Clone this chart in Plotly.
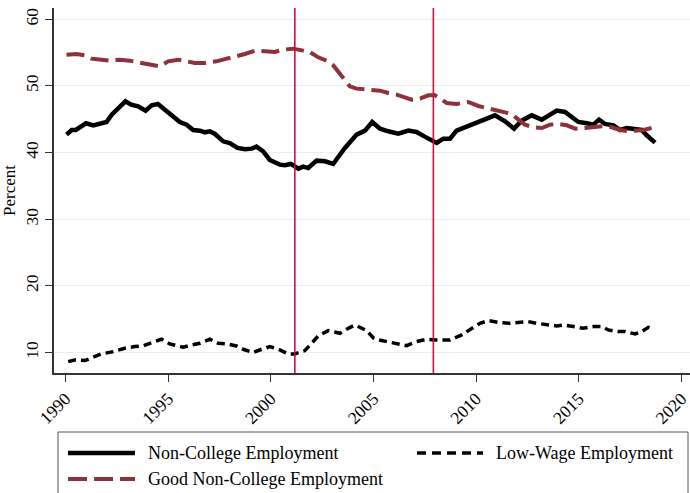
import plotly.graph_objects as go

# ---- Series data (fractional years, percent) ----
noncollege_years = [1990.05, 1990.3, 1990.5, 1990.8, 1991.0, 1991.35, 1991.67, 1992.0, 1992.25, 1992.56,
                    1992.92, 1993.2, 1993.54, 1993.9, 1994.2, 1994.5, 1994.84, 1995.24, 1995.57, 1995.9,
                    1996.22, 1996.55, 1996.79, 1997.03, 1997.28, 1997.68, 1998.0, 1998.38, 1998.74, 1999.06,
                    1999.3, 1999.63, 1999.95, 2000.44, 2000.69, 2000.98, 2001.34, 2001.58, 2001.82, 2002.23,
                    2002.64, 2003.04, 2003.61, 2004.18, 2004.59, 2004.94, 2005.32, 2005.72, 2006.21, 2006.7,
                    2007.1, 2007.5, 2007.84, 2008.08, 2008.4, 2008.73, 2009.05, 2009.46, 2009.86, 2010.43,
                    2010.92, 2011.41, 2011.85, 2012.22, 2012.71, 2013.2, 2013.52, 2013.93, 2014.33, 2014.66,
                    2014.98, 2015.39, 2015.71, 2015.99, 2016.28, 2016.69, 2017.01, 2017.34, 2017.74, 2018.07,
                    2018.31, 2018.72]
noncollege_pct = [42.7, 43.4, 43.4, 44.0, 44.4, 44.1, 44.3, 44.6, 45.7, 46.6,
                  47.7, 47.2, 46.95, 46.3, 47.1, 47.3, 46.45, 45.4, 44.6, 44.2,
                  43.4, 43.3, 43.05, 43.2, 42.8, 41.7, 41.45, 40.7, 40.5, 40.6,
                  40.9, 40.2, 38.9, 38.2, 38.1, 38.3, 37.6, 37.9, 37.7, 38.8,
                  38.7, 38.3, 40.7, 42.7, 43.3, 44.6, 43.6, 43.2, 42.85, 43.3,
                  43.1, 42.4, 41.9, 41.45, 42.1, 42.1, 43.3, 43.8, 44.3, 44.95,
                  45.6, 44.7, 43.6, 44.8, 45.6, 44.95, 45.6, 46.3, 46.1, 45.4,
                  44.6, 44.4, 44.2, 44.95, 44.3, 44.1, 43.4, 43.7, 43.6, 43.4,
                  42.6, 41.5]

lowwage_years = [1990.13, 1990.45, 1990.94, 1991.43, 1991.75, 1992.32, 1992.89, 1993.38, 1993.78, 1994.35,
                 1994.68, 1995.08, 1995.73, 1996.14, 1996.55, 1997.03, 1997.44, 1997.85, 1998.33, 1998.66,
                 1999.14, 1999.55, 1999.96, 2000.44, 2000.85, 2001.17, 2001.66, 2001.99, 2002.31, 2002.8,
                 2003.37, 2003.69, 2004.1, 2004.67, 2005.0, 2005.24, 2005.72, 2006.13, 2006.62, 2007.1,
                 2007.59, 2008.08, 2008.73, 2009.3, 2009.86, 2010.19, 2010.59, 2011.16, 2011.65, 2012.06,
                 2012.54, 2012.95, 2013.44, 2013.93, 2014.25, 2014.82, 2015.22, 2015.71, 2016.12, 2016.44,
                 2016.93, 2017.26, 2017.74, 2018.07, 2018.39, 2018.56]
lowwage_pct = [8.65, 8.9, 8.8, 9.4, 9.8, 10.15, 10.65, 10.9, 11.0, 11.65,
               12.0, 11.3, 10.8, 11.15, 11.4, 12.0, 11.4, 11.3, 11.0, 10.5,
               10.0, 10.5, 10.9, 10.4, 9.8, 9.8, 10.3, 11.4, 12.5, 13.3,
               12.9, 13.5, 14.15, 13.3, 12.2, 11.9, 11.65, 11.4, 11.05, 11.65,
               12.0, 11.9, 11.9, 12.65, 13.8, 14.4, 14.8, 14.5, 14.4, 14.5,
               14.65, 14.4, 14.15, 14.0, 14.15, 13.8, 13.65, 13.9, 13.9, 13.4,
               13.15, 13.15, 12.8, 13.15, 13.8, 13.65]

good_years = [1990.05, 1990.54, 1990.94, 1991.27, 1991.75, 1992.16, 1992.65, 1993.13, 1993.7, 1994.19,
              1994.6, 1995.0, 1995.49, 1995.9, 1996.3, 1996.79, 1997.36, 1997.85, 1998.33, 1998.74,
              1999.23, 1999.71, 2000.2, 2000.6, 2001.09, 2001.58, 2001.9, 2002.31, 2002.72, 2003.04,
              2003.28, 2003.61, 2003.85, 2004.18, 2004.59, 2004.99, 2005.32, 2005.72, 2006.13, 2006.53,
              2006.86, 2007.27, 2007.67, 2008.0, 2008.32, 2008.57, 2009.05, 2009.62, 2010.11, 2010.59,
              2010.92, 2011.33, 2011.73, 2012.06, 2012.38, 2012.79, 2013.2, 2013.6, 2014.0, 2014.42,
              2014.83, 2015.31, 2015.71, 2016.12, 2016.61, 2017.01, 2017.42, 2017.83, 2018.15, 2018.56]
good_pct = [54.7, 54.8, 54.6, 54.1, 53.95, 53.8, 53.95, 53.8, 53.45, 53.2,
            52.95, 53.7, 53.95, 53.7, 53.45, 53.45, 53.7, 54.1, 54.45, 54.8,
            55.3, 55.2, 55.1, 55.45, 55.6, 55.3, 55.1, 54.3, 53.8, 53.1,
            52.1, 50.8, 49.95, 49.6, 49.45, 49.45, 49.3, 48.95, 48.7, 48.3,
            47.95, 48.1, 48.6, 48.6, 47.95, 47.45, 47.3, 47.6, 47.0, 46.6,
            46.45, 46.1, 45.8, 44.95, 44.2, 43.8, 43.7, 44.2, 44.3, 44.1,
            43.6, 43.7, 43.8, 43.95, 43.8, 43.4, 43.2, 43.3, 43.4, 43.7]

recession_starts = [2001.17, 2007.92]

x_ticks = [1990, 1995, 2000, 2005, 2010, 2015, 2020]
y_ticks = [10, 20, 30, 40, 50, 60]

series_names = ["Non-College Employment", "Low-Wage Employment", "Good Non-College Employment"]

# ---- Styling ----
FONT = "Liberation Serif"
BLACK = "#000000"
MAROON = "#8f3139"
RECESSION = "#c8123f"
GRID = "#e8eff0"
AXIS = "#333333"

FIG_W, FIG_H = 690, 493
M_L, M_R, M_T, M_B = 54, 0, 8, 120
PLOT_W = FIG_W - M_L - M_R
PLOT_H = FIG_H - M_T - M_B


def paper_x(px):
    return (px - M_L) / PLOT_W


def paper_y(py):
    return (M_T + PLOT_H - py) / PLOT_H


fig = go.Figure()

fig.add_trace(go.Scatter(x=noncollege_years, y=noncollege_pct, mode="lines",
                         line=dict(color=BLACK, width=4.5), name=series_names[0],
                         showlegend=False))
fig.add_trace(go.Scatter(x=lowwage_years, y=lowwage_pct, mode="lines",
                         line=dict(color=BLACK, width=3.5, dash="8px,5px"), name=series_names[1],
                         showlegend=False))
fig.add_trace(go.Scatter(x=good_years, y=good_pct, mode="lines",
                         line=dict(color=MAROON, width=4, dash="18px,7px"), name=series_names[2],
                         showlegend=False))

shapes = []
for yr in recession_starts:
    shapes.append(dict(type="line", xref="x", yref="paper", x0=yr, x1=yr, y0=0, y1=1,
                       line=dict(color=RECESSION, width=1.6), layer="above"))

# Legend box drawn below the plot, two columns
shapes.append(dict(type="rect", xref="paper", yref="paper",
                   x0=paper_x(58), x1=paper_x(688), y0=paper_y(505), y1=paper_y(432),
                   line=dict(color="#555555", width=1), fillcolor="rgba(0,0,0,0)"))

legend_rows = [
    (series_names[0], 68, 135, 453, dict(color=BLACK, width=4.5)),
    (series_names[1], 417, 483, 453, dict(color=BLACK, width=3.5, dash="9px,6px")),
    (series_names[2], 68, 135, 479, dict(color=MAROON, width=4, dash="19px,7px")),
]
annotations = []
for name, kx0, kx1, ky, kline in legend_rows:
    shapes.append(dict(type="line", xref="paper", yref="paper",
                       x0=paper_x(kx0), x1=paper_x(kx1), y0=paper_y(ky), y1=paper_y(ky),
                       line=kline))
    annotations.append(dict(text=name, xref="paper", yref="paper",
                            x=paper_x(kx1 + 11), y=paper_y(ky), xanchor="left", yanchor="middle",
                            showarrow=False, font=dict(family=FONT, size=18, color=BLACK)))

fig.update_layout(
    width=FIG_W, height=FIG_H,
    margin=dict(l=M_L, r=M_R, t=M_T, b=M_B),
    paper_bgcolor="white", plot_bgcolor="white",
    font=dict(family=FONT, color=BLACK),
    shapes=shapes, annotations=annotations,
    showlegend=False,
)

fig.update_xaxes(range=[1989.44, 2020.42], tickvals=x_ticks, ticktext=[str(t) for t in x_ticks],
                 tickangle=-45, ticks="outside", ticklen=7, tickwidth=1.2, tickcolor=AXIS,
                 ticklabeloverflow="allow",
                 showline=True, linecolor=AXIS, linewidth=1.5, showgrid=False, zeroline=False,
                 tickfont=dict(family=FONT, size=17.5, color=BLACK))
fig.update_yaxes(range=[6.94, 61.7], tickvals=y_ticks, ticktext=[str(t) for t in y_ticks],
                 tickangle=-90, ticks="outside", ticklen=7, tickwidth=1.2, tickcolor=AXIS,
                 showline=True, linecolor=AXIS, linewidth=1.5, showgrid=True, gridcolor=GRID,
                 gridwidth=1.3, zeroline=False,
                 tickfont=dict(family=FONT, size=17.5, color=BLACK),
                 title=dict(text="Percent", font=dict(family=FONT, size=17, color=BLACK), standoff=8))

fig.write_html("out.html")
